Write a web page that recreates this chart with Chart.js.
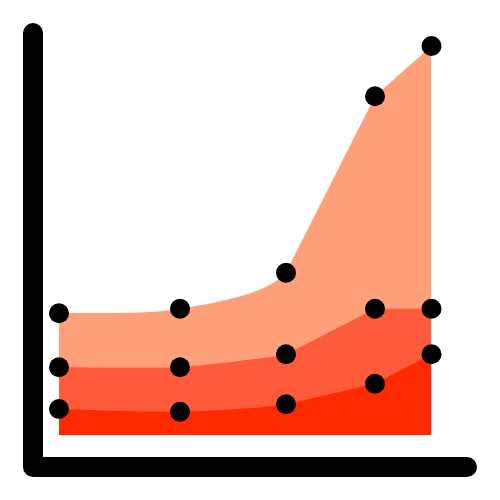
<!DOCTYPE html>
<html>
<head>
<meta charset="utf-8">
<script src="https://cdn.jsdelivr.net/npm/chart.js@4"></script>
<style>
  html, body { margin: 0; padding: 0; background: #fff; }
  #wrap { width: 500px; height: 500px; }
</style>
</head>
<body>
<div id="wrap"><canvas id="chart"></canvas></div>
<script>
// values
const xValues    = [0, 121, 227, 316, 372.5];
const topSeries  = [121.7, 126.3, 162.3, 338.7, 389];
const midSeries  = [67.7, 67.7, 80.7, 126.3, 126.3];
const lowSeries  = [26, 23.3, 30.7, 51.3, 80.7];

const colors = { top: '#ffa07a', mid: '#ff5a3a', low: '#ff2a00' };

const toPts = ys => ys.map((y, i) => ({ x: xValues[i], y }));

// thick L shaped axis, drawn under the areas
const axisLines = {
  id: 'axisLines',
  beforeDatasetsDraw(chart) {
    const c = chart.ctx;
    c.save();
    c.strokeStyle = '#000';
    c.lineWidth = 20;
    c.lineCap = 'round';
    c.lineJoin = 'round';
    c.beginPath();
    c.moveTo(33, 33);
    c.lineTo(33, 467);
    c.lineTo(467, 467);
    c.stroke();
    c.restore();
  },
};

// the right hand part of every area is straight, only the left part bends
const straightFrom = 2;
const straightTail = {
  id: 'straightTail',
  afterDatasetsUpdate(chart) {
    chart.getSortedVisibleDatasetMetas().forEach(meta => {
      meta.dataset.updateControlPoints(chart.chartArea, 'x');
      meta.data.forEach((pt, i) => {
        if (i >= straightFrom) { pt.cp2x = pt.x; pt.cp2y = pt.y; }
        if (i > straightFrom)  { pt.cp1x = pt.x; pt.cp1y = pt.y; }
      });
    });
  },
};

function areaSet(label, ys, color, tension) {
  return {
    label,
    data: toPts(ys),
    fill: 'origin',
    backgroundColor: color,
    borderWidth: 0,
    borderColor: color,
    tension,
    pointRadius: 10,
    pointBackgroundColor: '#000',
    pointBorderWidth: 0,
    clip: false,
  };
}

new Chart(document.getElementById('chart'), {
  type: 'line',
  data: {
    // first dataset is painted last
    datasets: [
      areaSet('low', lowSeries, colors.low, 0.3),
      areaSet('mid', midSeries, colors.mid, 0.1),
      areaSet('top', topSeries, colors.top, 0.3),
    ],
  },
  options: {
    responsive: true,
    maintainAspectRatio: false,
    animation: false,
    layout: { padding: { left: 59, right: 68.5, top: 46, bottom: 65 } },
    plugins: {
      legend: { display: false },
      tooltip: { enabled: false },
      filler: { drawTime: 'beforeDatasetsDraw' },
    },
    scales: {
      x: { type: 'linear', min: 0, max: 372.5, display: false },
      y: { min: 0, max: 389, display: false },
    },
  },
  plugins: [axisLines, straightTail],
});
</script>
</body>
</html>
